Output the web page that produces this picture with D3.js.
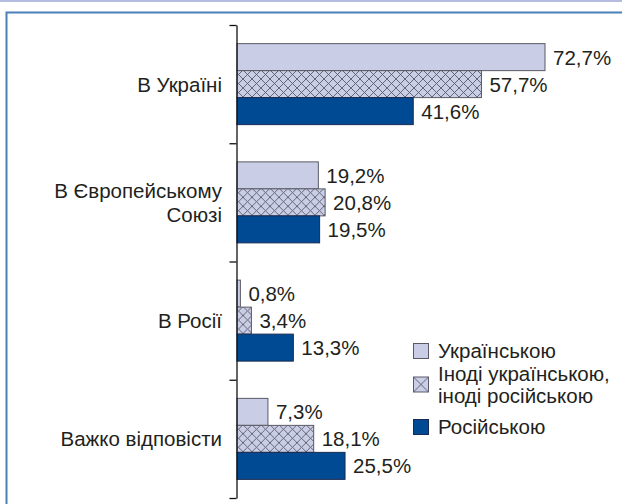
<!DOCTYPE html>
<html><head><meta charset="utf-8">
<script src="https://cdn.jsdelivr.net/npm/d3@7"></script>
<style>body{margin:0;background:#fff}svg{display:block}</style>
</head><body>
<svg id="c" width="622" height="504"></svg>
<script>
const categories = ["В Україні", "В Європейському|Союзі", "В Росії", "Важко відповісти"];
const seriesNames = ["Українською", "Іноді українською,|іноді російською", "Російською"];
const ukrainian = [72.7, 19.2, 0.8, 7.3];
const mixed = [57.7, 20.8, 3.4, 18.1];
const russian = [41.6, 19.5, 13.3, 25.5];
const seriesValues = [ukrainian, mixed, russian];
const fmt = v => v.toFixed(1).replace(".", ",") + "%";

const svg = d3.select("#c");
const font = "'Liberation Sans', Arial, Helvetica, sans-serif";
const txt = "#231f20";
const fs = 20.5;

const defs = svg.append("defs");
const pat = defs.append("pattern").attr("id","hatch").attr("patternUnits","userSpaceOnUse")
  .attr("width",9).attr("height",9);
pat.append("rect").attr("width",9).attr("height",9).attr("fill","#c9cde5");
pat.append("path").attr("d","M0,0L9,9M9,0L0,9").attr("stroke","#5a5a66").attr("stroke-width",0.9);

const fills = ["#c9cde5", "url(#hatch)", "#004a94"];
const strokes = ["#5a5a66", "#5a5a66", "#1a2a50"];

svg.append("rect").attr("x",0).attr("y",0).attr("width",622).attr("height",2).attr("fill","#b4bde0");
svg.append("path").attr("d","M6.5,504V12.5H622").attr("fill","none").attr("stroke","#4a7fb8").attr("stroke-width",2);

const x = d3.scaleLinear().domain([0, 72.7]).range([237, 545]);
const y0 = d3.scaleBand().domain(d3.range(categories.length)).range([25, 498]).paddingInner(0);
const y1 = d3.scaleBand().domain(d3.range(seriesNames.length)).range([0, y0.bandwidth()]).paddingInner(0).paddingOuter(0.69);

const groups = svg.append("g").selectAll("g").data(categories).join("g")
  .attr("transform",(d,i)=>`translate(0,${y0(i)})`);

groups.each(function(cat, ci){
  const g = d3.select(this);
  seriesValues.forEach((vals, si) => {
    g.append("rect").attr("x", x(0)).attr("y", y1(si))
      .attr("width", x(vals[ci]) - x(0)).attr("height", y1.bandwidth())
      .attr("fill", fills[si]).attr("stroke", strokes[si]).attr("stroke-width", 1);
    g.append("text").attr("x", x(vals[ci]) + 8).attr("y", y1(si) + y1.bandwidth()/2)
      .attr("dy","0.36em").attr("font-family",font).attr("font-size",fs).attr("fill",txt)
      .text(fmt(vals[ci]));
  });
  const lines = cat.split("|");
  const t = g.append("text").attr("text-anchor","end").attr("font-family",font)
    .attr("font-size",fs).attr("fill",txt);
  lines.forEach((ln, li) => {
    t.append("tspan").attr("x",222)
      .attr("y", y0.bandwidth()/2 + (li - (lines.length-1)/2)*24)
      .attr("dy","0.36em").text(ln);
  });
});

const ya = d3.scaleLinear().domain([0, categories.length]).range([25, 498]);
const axis = svg.append("g").attr("transform","translate(236.5,0)")
  .call(d3.axisLeft(ya).tickValues(d3.range(categories.length+1)).tickFormat("").tickSize(7).tickSizeOuter(0));
axis.selectAll("path,line").attr("stroke","#111").attr("stroke-width",1.3);

const legY = [351, 384.5, 427];
const leg = svg.append("g");
seriesNames.forEach((name, i) => {
  leg.append("rect").attr("x",413.5).attr("y",legY[i]-7.5).attr("width",15).attr("height",15)
    .attr("fill", i===1 ? "#c9cde5" : fills[i]).attr("stroke", strokes[i]).attr("stroke-width",1);
  if (i===1) {
    leg.append("path").attr("d",`M413.5,${legY[i]-7.5}l15,15M428.5,${legY[i]-7.5}l-15,15`)
      .attr("stroke","#5a5a66").attr("stroke-width",0.9);
  }
  const lines = name.split("|");
  const t = leg.append("text").attr("font-family",font).attr("font-size",fs).attr("fill",txt);
  lines.forEach((ln, li) => {
    t.append("tspan").attr("x",438).attr("y", legY[i] + (li - (lines.length-1)/2)*22)
      .attr("dy","0.36em").text(ln);
  });
});
</script>
</body></html>
